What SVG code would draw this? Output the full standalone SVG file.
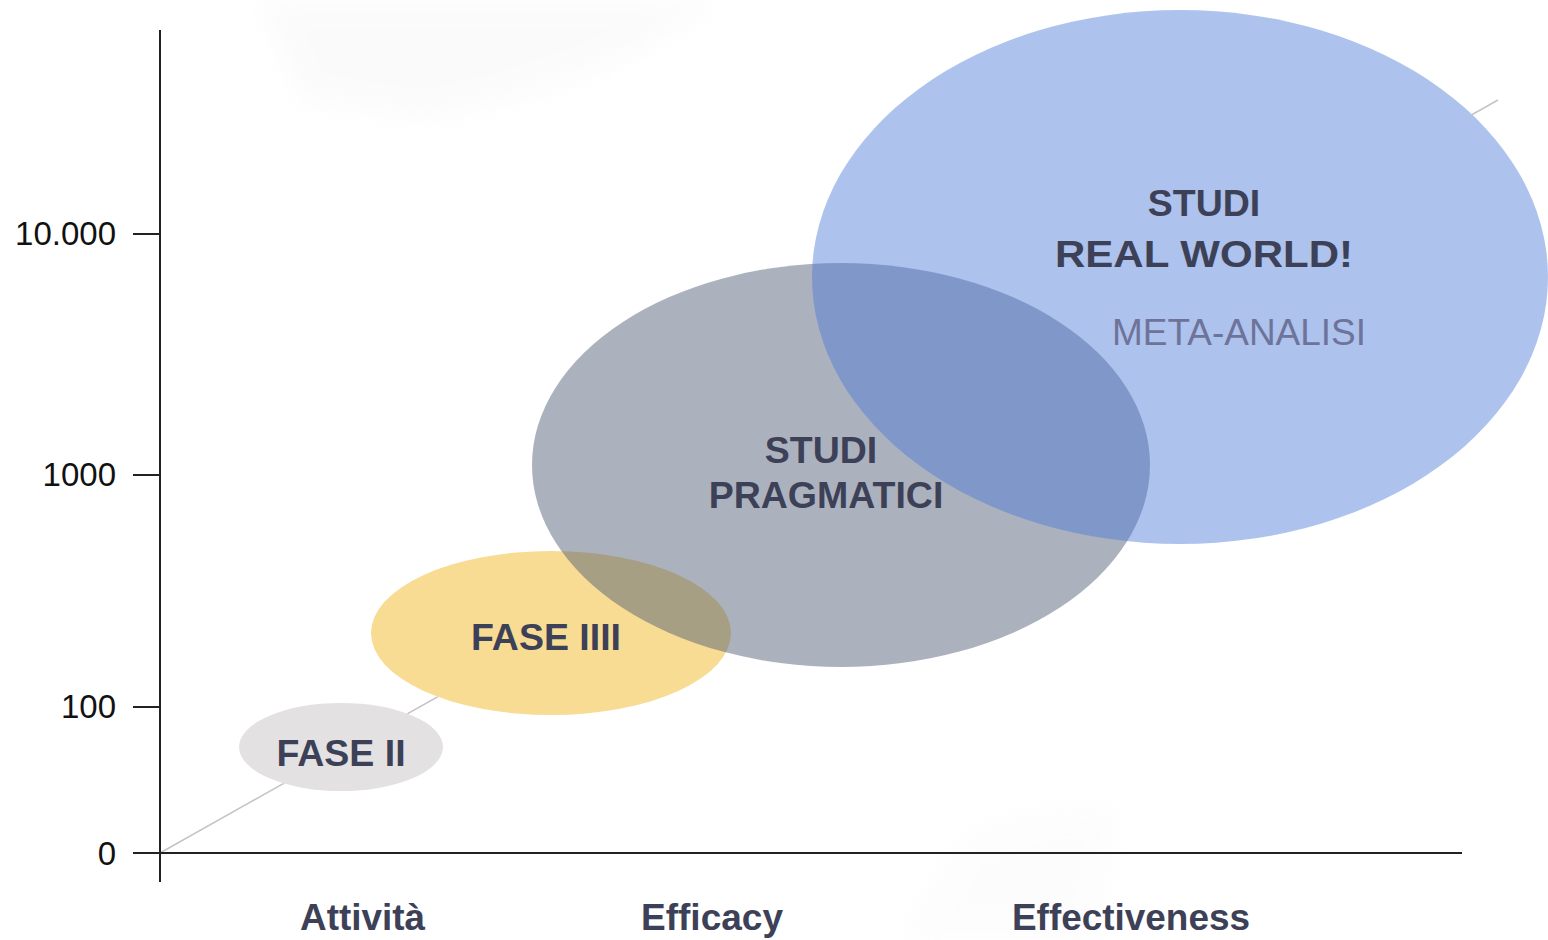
<svg xmlns="http://www.w3.org/2000/svg" width="1548" height="940" viewBox="0 0 1548 940">
<style>
.ax{stroke:#222;stroke-width:2;fill:none}
.tick{font-family:"Liberation Sans",Arial,sans-serif;font-size:33px;fill:#111;text-anchor:end}
.lbl{font-family:"Liberation Sans",Arial,sans-serif;font-size:37.5px;font-weight:bold;fill:#3d4157;text-anchor:middle}
.cat{font-family:"Liberation Sans",Arial,sans-serif;font-size:36px;font-weight:bold;fill:#3d4157}
</style>
<defs>
<filter id="blur" x="-20%" y="-20%" width="140%" height="140%"><feGaussianBlur stdDeviation="12"/></filter>
<mask id="lineMask" maskUnits="userSpaceOnUse" x="0" y="0" width="1548" height="940">
<rect width="1548" height="940" fill="#fff"/>
<ellipse cx="341" cy="747" rx="102" ry="44" fill="#000"/>
<ellipse cx="551" cy="633" rx="180" ry="82" fill="#000"/>
<ellipse cx="841" cy="465" rx="309" ry="202" fill="#000"/>
<ellipse cx="1180" cy="277" rx="368" ry="267" fill="#000"/>
</mask>
</defs>
<rect width="1548" height="940" fill="#fff"/>
<path d="M260 0 L720 0 Q600 90 420 120 L300 100 Z" fill="#f6f6f6" opacity="0.45" filter="url(#blur)"/>
<path d="M900 940 L960 840 Q1030 800 1120 810 L1100 940 Z" fill="#f8f8f8" opacity="0.35" filter="url(#blur)"/>
<g id="connectors">
<line x1="160" y1="853" x2="1498" y2="100" stroke="#c4c4c4" stroke-width="1.5" mask="url(#lineMask)"/>
</g>
<g id="axes">
<line class="ax" x1="160" y1="30" x2="160" y2="882"/>
<line class="ax" x1="133" y1="853" x2="1462" y2="853"/>
<line class="ax" x1="133" y1="234" x2="160" y2="234"/>
<line class="ax" x1="133" y1="475" x2="160" y2="475"/>
<line class="ax" x1="133" y1="707" x2="160" y2="707"/>
<text class="tick" x="116" y="245">10.000</text>
<text class="tick" x="116" y="486">1000</text>
<text class="tick" x="116" y="718">100</text>
<text class="tick" x="116" y="865">0</text>
<text class="cat" x="300" y="930" textLength="125" lengthAdjust="spacingAndGlyphs">Attività</text>
<text class="cat" x="641" y="930" textLength="142" lengthAdjust="spacingAndGlyphs">Efficacy</text>
<text class="cat" x="1012" y="930" textLength="238" lengthAdjust="spacingAndGlyphs">Effectiveness</text>
</g>
<g id="fase2">
<ellipse cx="341" cy="747" rx="102" ry="44" fill="#e4e1e3"/>
<text class="lbl" x="341" y="766">FASE II</text>
</g>
<g id="fase4">
<ellipse cx="551" cy="633" rx="180" ry="82" fill="#f8dc94"/>
<text class="lbl" x="546" y="650">FASE IIII</text>
</g>
<g id="pragmatici">
<ellipse cx="841" cy="465" rx="309" ry="202" fill="#45546f" fill-opacity="0.45"/>
<text class="lbl" x="821" y="463">STUDI</text>
<text class="lbl" x="826" y="508">PRAGMATICI</text>
</g>
<g id="realworld">
<ellipse cx="1180" cy="277" rx="368" ry="267" fill="#4d7ad5" fill-opacity="0.46"/>
<text class="lbl" x="1204" y="216" font-size="44">STUDI</text>
<text class="lbl" x="1204" y="267" font-size="44" textLength="298" lengthAdjust="spacingAndGlyphs">REAL WORLD!</text>
<text x="1112" y="345" font-family="'Liberation Sans',Arial,sans-serif" font-size="36" fill="#6e7399" textLength="254" lengthAdjust="spacingAndGlyphs">META-ANALISI</text>
</g>
</svg>
